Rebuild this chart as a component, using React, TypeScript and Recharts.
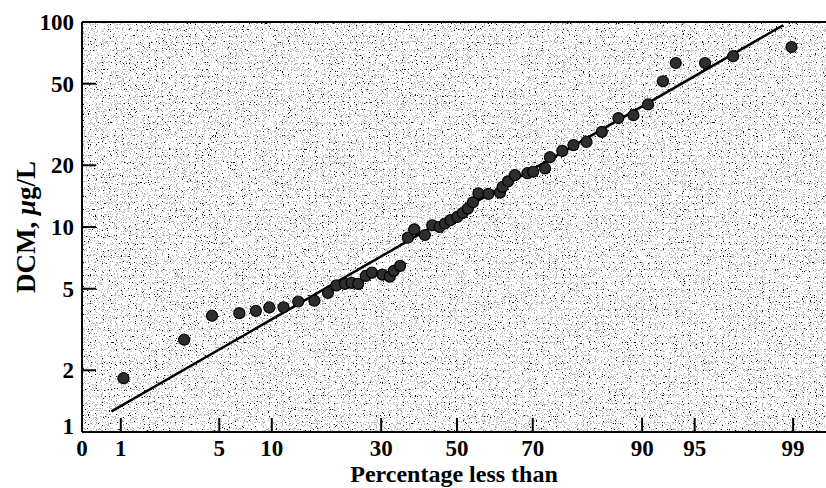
import { ComposedChart, XAxis, YAxis, Scatter, Line, CartesianGrid, ReferenceLine, Label } from 'recharts'

// probability plot: x = percentage less than (normal scale), y = DCM (log scale)
const percentLess = [
  1.05, 2.95, 4.5, 6.6, 8.2, 9.7, 11.5, 13.6, 16.2, 18.6, 20.2, 21.9, 23.3, 24.7, 26.4, 27.8,
  30.3, 32.1, 33.1, 34.7, 36.7, 38.4, 41.2, 43.2, 45.2, 46.7, 48.2, 50.1, 51.6, 53.0, 54.4, 55.9,
  58.6, 61.7, 62.4, 63.8, 65.6, 68.7, 70.1, 72.9, 74.0, 76.7, 79.0, 81.5, 84.2, 86.8, 88.9, 90.7,
  92.3, 93.5, 95.7, 97.2, 98.97,
]
const dcm = [
  1.83, 2.82, 3.69, 3.8, 3.9, 4.05, 4.06, 4.33, 4.37, 4.77, 5.19, 5.28, 5.34, 5.28, 5.77, 5.99,
  5.86, 5.73, 6.11, 6.46, 8.87, 9.74, 9.14, 10.2, 10.0, 10.4, 10.8, 11.2, 11.7, 12.3, 13.2, 14.6,
  14.5, 14.7, 15.7, 16.7, 17.9, 18.3, 18.6, 19.3, 21.9, 23.5, 25.1, 26.0, 29.1, 34.0, 35.1, 39.6,
  51.4, 63.1, 63.1, 68.1, 75.5,
]

// fitted line end points
const fitPercent = [0.84, 98.8]
const fitDcm = [1.26, 96.4]

const xTickPercents = [1, 5, 10, 30, 50, 70, 90, 95, 99]
const yTicks = [1, 2, 5, 10, 20, 50, 100]

// visible range of the normal probability axis (left edge is labelled 0)
const Z_MIN = -2.595
const Z_MAX = 2.554

const FONT = "'Liberation Serif', 'Times New Roman', serif"
const TICK_LEN = 14

// inverse standard normal CDF (Acklam)
function probit(p: number): number {
  const a = [-39.69683028665376, 220.9460984245205, -275.9285104469687, 138.357751867269, -30.66479806614716, 2.506628277459239]
  const b = [-54.47609879822406, 161.5858368580409, -155.6989798598866, 66.80131188771972, -13.28068155288572]
  const c = [-0.007784894002430293, -0.3223964580411365, -2.400758277161838, -2.549671500406263, 4.374664141464968, 2.938163982698783]
  const d = [0.007784695709041462, 0.3224671290700398, 2.445134137142996, 3.754408661907416]
  const pl = 0.02425
  if (p < pl) {
    const q = Math.sqrt(-2 * Math.log(p))
    return (((((c[0] * q + c[1]) * q + c[2]) * q + c[3]) * q + c[4]) * q + c[5]) / ((((d[0] * q + d[1]) * q + d[2]) * q + d[3]) * q + 1)
  }
  if (p > 1 - pl) {
    const q = Math.sqrt(-2 * Math.log(1 - p))
    return -(((((c[0] * q + c[1]) * q + c[2]) * q + c[3]) * q + c[4]) * q + c[5]) / ((((d[0] * q + d[1]) * q + d[2]) * q + d[3]) * q + 1)
  }
  const q = p - 0.5
  const r = q * q
  return ((((((a[0] * r + a[1]) * r + a[2]) * r + a[3]) * r + a[4]) * r + a[5]) * q) / (((((b[0] * r + b[1]) * r + b[2]) * r + b[3]) * r + b[4]) * r + 1)
}

const points = percentLess.map((p, i) => ({ z: probit(p / 100), v: dcm[i] }))
const fitData = fitPercent.map((p, i) => ({ z: probit(p / 100), v: fitDcm[i] }))

const xTicks = [{ z: Z_MIN, label: '0' }, ...xTickPercents.map((p) => ({ z: probit(p / 100), label: String(p) }))]

const tickText = { fontFamily: FONT, fontWeight: 700, fontSize: 23, fill: '#000' }

// tick labels outside, tick marks pointing into the plot
const XTick = (props: any) => {
  const { x, y, payload } = props
  const t = xTicks.reduce((best, cur) => (Math.abs(cur.z - payload.value) < Math.abs(best.z - payload.value) ? cur : best))
  const axisY = y - 8
  return (
    <g>
      {t.label !== '0' && <line x1={x} x2={x} y1={axisY} y2={axisY - TICK_LEN} stroke="#000" strokeWidth={2} />}
      <text x={x} y={axisY + 24} textAnchor="middle" style={tickText}>{t.label}</text>
    </g>
  )
}

const YTick = (props: any) => {
  const { x, y, payload } = props
  const v = payload.value
  const axisX = x + 8
  return (
    <g>
      {v !== 1 && v !== 100 && <line x1={axisX} x2={axisX + TICK_LEN} y1={y} y2={y} stroke="#000" strokeWidth={2} />}
      <text x={x} y={v === 1 ? y - 6 : y} dy="0.35em" textAnchor="end" style={tickText}>{v}</text>
    </g>
  )
}

const PointDot = (props: any) => {
  const { cx, cy } = props
  return <circle cx={cx} cy={cy} r={5.5} fill="#2e2e2e" stroke="#000" strokeWidth={1.2} />
}

const YTitle = (props: any) => {
  const vb = props.viewBox || { x: 22, y: 22, width: 60, height: 410 }
  const cx = vb.x + 13
  const cy = vb.y + vb.height / 2
  return (
    <text x={cx} y={cy} textAnchor="middle" transform={`rotate(-90 ${cx} ${cy})`}
      style={{ fontFamily: FONT, fontWeight: 700, fontSize: 27, fill: '#000' }}>
      DCM, <tspan fontStyle="italic">μ</tspan>g/L
    </text>
  )
}

export default function App() {
  return (
    <div style={{ position: 'absolute', left: 0, top: 0, width: 826, height: 488, background: '#fff' }}>
      <ComposedChart width={826} height={488} margin={{ top: 22, right: 0, bottom: 0, left: 22 }}>
        <defs>
          <filter id="speckle" x="0" y="0" width="1" height="1" colorInterpolationFilters="sRGB">
            <feTurbulence type="fractalNoise" baseFrequency="0.85" numOctaves={1} seed={7} result="noise" />
            <feColorMatrix in="noise" type="matrix" values="0 0 0 0 0  0 0 0 0 0  0 0 0 0 0  1 0 0 0 0" result="a" />
            <feComponentTransfer in="a">
              <feFuncA type="discrete" tableValues="0 0 0 0 0 0 0 0 0 0 0 0 0.3 0.3 0.95 0.95 0.95 0.95 0.95 0.95" />
            </feComponentTransfer>
          </filter>
          <pattern id="speckleFill" patternUnits="userSpaceOnUse" x="0" y="0" width="826" height="488">
            <rect x="0" y="0" width="826" height="488" fill="#fff" />
            <rect x="0" y="0" width="826" height="488" fill="#000" filter="url(#speckle)" />
          </pattern>
        </defs>
        <CartesianGrid horizontal={false} vertical={false} fill="url(#speckleFill)" fillOpacity={1} />
        <XAxis
          type="number"
          dataKey="z"
          domain={[Z_MIN, Z_MAX]}
          ticks={xTicks.map((t) => t.z)}
          interval={0}
          allowDataOverflow
          height={56}
          axisLine={{ stroke: '#000', strokeWidth: 2 }}
          tickLine={false}
          tickSize={6}
          tickMargin={2}
          tick={<XTick />}
        >
          <Label value="Percentage less than" position="insideBottom" offset={6}
            style={{ fontFamily: FONT, fontWeight: 700, fontSize: 24, fill: '#000' }} />
        </XAxis>
        <YAxis
          type="number"
          dataKey="v"
          scale="log"
          domain={[1, 100]}
          ticks={yTicks}
          interval={0}
          allowDataOverflow
          width={60}
          axisLine={{ stroke: '#000', strokeWidth: 2 }}
          tickLine={false}
          tickSize={6}
          tickMargin={2}
          tick={<YTick />}
          label={{ content: <YTitle /> }}
        />
        <ReferenceLine y={100} stroke="#000" strokeWidth={2} />
        <Line data={fitData} dataKey="v" type="linear" stroke="#000" strokeWidth={2.5} dot={false} isAnimationActive={false} />
        <Scatter data={points} isAnimationActive={false} shape={<PointDot />} />
      </ComposedChart>
    </div>
  )
}
